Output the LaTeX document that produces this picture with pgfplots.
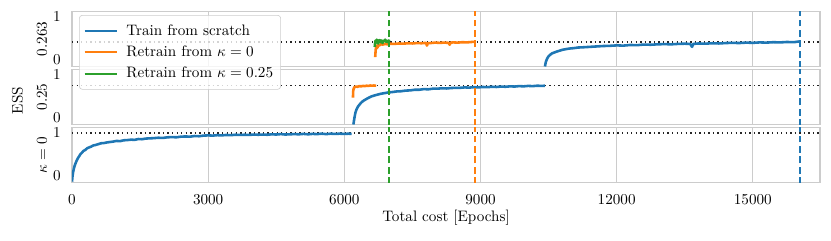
\documentclass[border=0pt]{standalone}
\usepackage{pgfplots}
\pgfplotsset{compat=1.18}
\definecolor{tabblue}{HTML}{1F77B4}
\definecolor{taborange}{HTML}{FF7F0E}
\definecolor{tabgreen}{HTML}{2CA02C}
\definecolor{spine}{HTML}{CCCCCC}
\pgfplotsset{
  panel/.style={
    scale only axis, width=493.68pt, height=36.3pt,
    anchor=south west,
    xmin=0, xmax=16480, ymin=-0.16, ymax=1.13,
    ytick={0,1}, xtick={0,3000,6000,9000,12000,15000},
    scaled x ticks=false,
    xticklabel style={/pgf/number format/set thousands separator={}, yshift=-4.5pt},
    yticklabel style={xshift=-4pt},
    major tick length=0pt,
    xmajorgrids, grid style={draw=spine, line width=0.8pt},
    axis line style={draw=spine, line width=1.1pt},
    ylabel style={at={(axis description cs:-0.0401,0.5)}, anchor=center},
  },
  curve/.style={line width=1.7pt, line join=round},
  vdash/.style={line width=1.3pt, dash pattern=on 4.5pt off 2.4pt},
  hdot/.style={black!85, line width=0.9pt, dash pattern=on 0.9pt off 2.1pt},
}
\begin{document}
\begin{tikzpicture}
\path[use as bounding box] (0,0) rectangle (548.46pt,158.4pt);
% ---------------- bottom panel: kappa = 0
\begin{axis}[panel, at={(47.52pt,37.95pt)}, ylabel={$\kappa = 0$},
  xlabel={Total cost [Epochs]},
  xlabel style={at={(axis description cs:0.5,-0.64)}, anchor=center}]
\addplot[hdot] coordinates {(0,1.0) (16480,1.0)};
\addplot[curve, tabblue] coordinates {
(0,-0.14) (10,-0.03) (20,0.05) (30,0.11) (40,0.16) (55,0.22) (70,0.27) (90,0.32)
(110,0.37) (135,0.42) (160,0.46) (190,0.51) (220,0.54) (250,0.58) (290,0.60)
(330,0.64) (370,0.66) (420,0.68) (470,0.71) (520,0.72) (580,0.74) (640,0.76)
(700,0.765) (770,0.78) (840,0.79) (910,0.80) (980,0.815) (1060,0.81) (1140,0.83)
(1220,0.835) (1300,0.845) (1380,0.84) (1460,0.86) (1540,0.855) (1620,0.87)
(1700,0.875) (1800,0.88) (1900,0.89) (2000,0.885) (2100,0.90) (2200,0.905)
(2300,0.90) (2400,0.915) (2500,0.92) (2600,0.915) (2700,0.93) (2800,0.925)
(2900,0.94) (3000,0.945) (3100,0.94) (3200,0.95) (3300,0.945) (3400,0.955)
(3500,0.95) (3600,0.96) (3700,0.955) (3800,0.96) (3900,0.955) (4000,0.965)
(4100,0.96) (4200,0.965) (4300,0.96) (4400,0.97) (4500,0.965) (4600,0.975)
(4700,0.965) (4800,0.97) (4900,0.975) (5000,0.97) (5100,0.98) (5200,0.97)
(5300,0.98) (5400,0.975) (5500,0.985) (5600,0.975) (5700,0.985) (5800,0.98)
(5900,0.985) (6000,0.98) (6100,0.985) (6160,0.98)};
\addplot[vdash, tabgreen] coordinates {(6990,-0.2) (6990,1.2)};
\addplot[vdash, taborange] coordinates {(8880,-0.2) (8880,1.2)};
\addplot[vdash, tabblue] coordinates {(16040,-0.2) (16040,1.2)};
\end{axis}
% ---------------- middle panel: 0.25
\begin{axis}[panel, at={(47.52pt,76.23pt)}, ylabel={0.25}, xticklabels={}]
\addplot[hdot] coordinates {(0,0.76) (16480,0.76)};
\addplot[curve, tabblue] coordinates {
(6200,-0.16) (6215,-0.05) (6230,0.04) (6245,0.12) (6260,0.17) (6280,0.22)
(6300,0.26) (6330,0.30) (6360,0.34) (6400,0.38) (6440,0.41) (6490,0.44)
(6540,0.47) (6600,0.50) (6660,0.52) (6730,0.54) (6800,0.56) (6880,0.575)
(6960,0.59) (7050,0.60) (7150,0.615) (7250,0.62) (7350,0.635) (7450,0.64)
(7550,0.655) (7650,0.655) (7750,0.67) (7850,0.665) (7950,0.68) (8050,0.68)
(8150,0.69) (8250,0.685) (8350,0.695) (8450,0.70) (8550,0.70) (8650,0.71)
(8750,0.705) (8850,0.715) (8950,0.71) (9050,0.72) (9150,0.715) (9250,0.725)
(9350,0.72) (9450,0.73) (9550,0.725) (9650,0.735) (9750,0.73) (9850,0.74)
(9950,0.735) (10050,0.745) (10150,0.74) (10250,0.75) (10350,0.745) (10420,0.75)};
\addplot[curve, taborange] coordinates {
(6190,0.47) (6195,0.62) (6205,0.68) (6220,0.71) (6250,0.73) (6290,0.725)
(6330,0.74) (6370,0.735) (6410,0.745) (6450,0.74) (6490,0.75) (6530,0.745)
(6570,0.755) (6610,0.75) (6650,0.755) (6700,0.75)};
\addplot[vdash, tabgreen] coordinates {(6990,-0.2) (6990,1.2)};
\addplot[vdash, taborange] coordinates {(8880,-0.2) (8880,1.2)};
\addplot[vdash, tabblue] coordinates {(16040,-0.2) (16040,1.2)};
\end{axis}
% ---------------- top panel: 0.263
\begin{axis}[panel, at={(47.52pt,114.51pt)}, ylabel={0.263}, xticklabels={},
  legend cell align=left,
  legend style={at={(axis description cs:0.0094,0.936)}, anchor=north west,
    draw=spine, fill=white, fill opacity=0.8, draw opacity=1, text opacity=1,
    rounded corners=2pt, row sep=1.6pt, inner xsep=3pt, inner ysep=4pt,
    /tikz/every odd column/.append style={column sep=4pt}},
  legend image code/.code={\draw[#1, line width=1.1pt] (0pt,0pt) -- (21pt,0pt);}]
\addplot[hdot, forget plot] coordinates {(0,0.415) (16480,0.415)};
\addplot[curve, tabblue] coordinates {
(10420,-0.16) (10440,-0.05) (10470,0.03) (10500,0.08) (10540,0.12) (10580,0.15)
(10630,0.17) (10680,0.19) (10740,0.21) (10800,0.23) (10870,0.245) (10950,0.26)
(11050,0.27) (11150,0.285) (11250,0.29) (11400,0.30) (11550,0.31) (11700,0.32)
(11850,0.325) (12000,0.335) (12150,0.33) (12300,0.345) (12450,0.34) (12600,0.355)
(12750,0.35) (12900,0.36) (13050,0.365) (13200,0.36) (13350,0.37) (13500,0.375)
(13620,0.37) (13660,0.30) (13690,0.37) (13800,0.38) (13950,0.375) (14100,0.385)
(14250,0.38) (14400,0.39) (14550,0.395) (14700,0.39) (14850,0.40) (15000,0.395)
(15150,0.405) (15300,0.40) (15450,0.41) (15600,0.405) (15750,0.415) (15900,0.41)
(16040,0.43)};
\addlegendentry{Train from scratch}
\addplot[curve, taborange] coordinates {
(6680,0.06) (6690,0.22) (6700,0.30) (6715,0.33) (6730,0.28) (6745,0.34)
(6770,0.33) (6800,0.36) (6850,0.355) (6900,0.37) (6950,0.36) (7000,0.375)
(7100,0.37) (7200,0.38) (7300,0.375) (7400,0.385) (7500,0.38) (7600,0.39)
(7700,0.385) (7800,0.395) (7820,0.33) (7840,0.39) (7900,0.39) (8000,0.40)
(8100,0.395) (8200,0.40) (8300,0.395) (8320,0.35) (8340,0.40) (8400,0.405)
(8500,0.40) (8600,0.41) (8700,0.405) (8800,0.415) (8880,0.42)};
\addlegendentry{Retrain from $\kappa = 0$}
\addplot[curve, tabgreen] coordinates {
(6670,0.30) (6680,0.42) (6690,0.45) (6700,0.40) (6715,0.47) (6730,0.43)
(6745,0.38) (6760,0.44) (6780,0.46) (6800,0.41) (6820,0.45) (6840,0.39)
(6860,0.44) (6880,0.43) (6900,0.47) (6920,0.42) (6940,0.44) (6960,0.41)
(6980,0.45) (6990,0.43)};
\addlegendentry{Retrain from $\kappa = 0.25$}
\addplot[vdash, tabgreen, forget plot] coordinates {(6990,-0.2) (6990,1.2)};
\addplot[vdash, taborange, forget plot] coordinates {(8880,-0.2) (8880,1.2)};
\addplot[vdash, tabblue, forget plot] coordinates {(16040,-0.2) (16040,1.2)};
\end{axis}
\node[rotate=90] at (11.55pt,92.07pt) {ESS};
\end{tikzpicture}
\end{document}
